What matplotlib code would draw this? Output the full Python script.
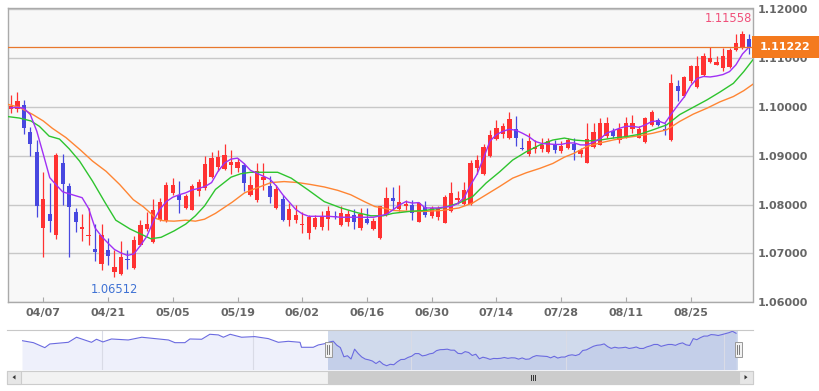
import matplotlib.pyplot as plt
from matplotlib.patches import Rectangle, Polygon
from matplotlib.transforms import blended_transform_factory

W, H = 819, 391
UP = "#ff3232"
DOWN = "#4848e0"

# daily candles 03/31 .. 09/05
opens = [1.0996, 1.0996, 1.1004, 1.0948, 1.0907, 1.0751, 1.0781, 1.0737, 1.0885, 1.0838,
         1.0784, 1.0749, 1.0736, 1.0710, 1.0678, 1.0706, 1.0663, 1.0658, 1.0689, 1.0670,
         1.0717, 1.0749, 1.0724, 1.0769, 1.0767, 1.0824, 1.0820, 1.0792, 1.0789, 1.0827,
         1.0833, 1.0856, 1.0877, 1.0873, 1.0880, 1.0875, 1.0880, 1.0820, 1.0809, 1.0851,
         1.0837, 1.0793, 1.0811, 1.0769, 1.0769, 1.0759, 1.0742, 1.0754, 1.0754, 1.0770,
         1.0777, 1.0759, 1.0764, 1.0779, 1.0752, 1.0770, 1.0750, 1.0731, 1.0779, 1.0813,
         1.0790, 1.0796, 1.0800, 1.0765, 1.0795, 1.0776, 1.0774, 1.0763, 1.0786, 1.0810,
         1.0801, 1.0801, 1.0874, 1.0863, 1.0899, 1.0935, 1.0944, 1.0937, 1.0954, 1.0915,
         1.0903, 1.0914, 1.0913, 1.0908, 1.0924, 1.0910, 1.0915, 1.0924, 1.0903, 1.0886,
         1.0917, 1.0922, 1.0941, 1.0951, 1.0932, 1.0939, 1.0955, 1.0937, 1.0928, 1.0963,
         1.0973, 1.0955, 1.0932, 1.1042, 1.1023, 1.1052, 1.1040, 1.1065, 1.1091, 1.1086,
         1.1079, 1.1081, 1.1117, 1.1120, 1.1139]
highs = [1.1024, 1.1031, 1.1014, 1.0958, 1.0932, 1.0867, 1.0844, 1.0906, 1.0904, 1.0845,
         1.0793, 1.0780, 1.0792, 1.0760, 1.0760, 1.0732, 1.0706, 1.0725, 1.0708, 1.0735,
         1.0769, 1.0784, 1.0812, 1.0814, 1.0846, 1.0854, 1.0849, 1.0821, 1.0842, 1.0852,
         1.0899, 1.0907, 1.0912, 1.0923, 1.0912, 1.0895, 1.0885, 1.0858, 1.0884, 1.0884,
         1.0858, 1.0841, 1.0820, 1.0803, 1.0800, 1.0784, 1.0779, 1.0779, 1.0786, 1.0796,
         1.0786, 1.0796, 1.0789, 1.0791, 1.0793, 1.0793, 1.0772, 1.0798, 1.0835, 1.0835,
         1.0840, 1.0810, 1.0810, 1.0806, 1.0807, 1.0797, 1.0797, 1.0820, 1.0847, 1.0827,
         1.0847, 1.0891, 1.0901, 1.0924, 1.0952, 1.0973, 1.0966, 1.0990, 1.0981, 1.0937,
         1.0946, 1.0932, 1.0937, 1.0937, 1.0932, 1.0929, 1.0937, 1.0936, 1.0915, 1.0967,
         1.0967, 1.0977, 1.0980, 1.0956, 1.0967, 1.0980, 1.0984, 1.0960, 1.0980, 1.0994,
         1.0977, 1.0967, 1.1067, 1.1055, 1.1062, 1.1086, 1.1103, 1.1110, 1.1122, 1.1103,
         1.1120, 1.1120, 1.1149, 1.11558, 1.1149]
lows = [1.0988, 1.0990, 1.0944, 1.0900, 1.0774, 1.0692, 1.0743, 1.0730, 1.0799, 1.0693,
        1.0743, 1.0726, 1.0717, 1.0684, 1.0667, 1.0677, 1.06512, 1.0655, 1.0668, 1.0668,
        1.0715, 1.0745, 1.0722, 1.0767, 1.0764, 1.0819, 1.0783, 1.0790, 1.0788, 1.0818,
        1.0830, 1.0854, 1.0868, 1.0870, 1.0863, 1.0866, 1.0828, 1.0818, 1.0806, 1.0830,
        1.0804, 1.0791, 1.0767, 1.0757, 1.0762, 1.0742, 1.0729, 1.0750, 1.0748, 1.0747,
        1.0770, 1.0757, 1.0757, 1.0750, 1.0748, 1.0761, 1.0747, 1.0730, 1.0776, 1.0789,
        1.0786, 1.0789, 1.0769, 1.0765, 1.0774, 1.0772, 1.0769, 1.0762, 1.0784, 1.0801,
        1.0799, 1.0799, 1.0863, 1.0861, 1.0898, 1.0932, 1.0937, 1.0935, 1.0920, 1.0912,
        1.0899, 1.0906, 1.0908, 1.0906, 1.0906, 1.0906, 1.0914, 1.0891, 1.0898, 1.0885,
        1.0915, 1.0921, 1.0936, 1.0937, 1.0926, 1.0936, 1.0946, 1.0936, 1.0926, 1.0960,
        1.0960, 1.0943, 1.0930, 1.1012, 1.1021, 1.1048, 1.1038, 1.1064, 1.1089, 1.1085,
        1.1074, 1.1079, 1.1115, 1.1118, 1.1108]
closes = [1.1002, 1.1012, 1.0957, 1.0924, 1.0797, 1.0811, 1.0766, 1.0902, 1.0842, 1.0794,
          1.0765, 1.0754, 1.0738, 1.0703, 1.0737, 1.0694, 1.0673, 1.0693, 1.0687, 1.0728,
          1.0759, 1.0761, 1.0788, 1.0805, 1.0841, 1.0841, 1.0809, 1.0818, 1.0837, 1.0846,
          1.0882, 1.0895, 1.0897, 1.0902, 1.0888, 1.0888, 1.0844, 1.0839, 1.0868, 1.0856,
          1.0815, 1.0832, 1.0769, 1.0791, 1.0779, 1.0761, 1.0774, 1.0772, 1.0776, 1.0787,
          1.0775, 1.0783, 1.0781, 1.0764, 1.0781, 1.0762, 1.0766, 1.0796, 1.0813, 1.0808,
          1.0805, 1.0801, 1.0782, 1.0804, 1.0779, 1.0793, 1.0793, 1.0816, 1.0824, 1.0814,
          1.0830, 1.0884, 1.0892, 1.0917, 1.0942, 1.0956, 1.0961, 1.0975, 1.0937, 1.0913,
          1.0929, 1.0918, 1.0922, 1.0929, 1.0912, 1.0920, 1.0932, 1.0912, 1.0912, 1.0934,
          1.0948, 1.0967, 1.0967, 1.0941, 1.0955, 1.0967, 1.0967, 1.0955, 1.0977, 1.0989,
          1.0962, 1.0953, 1.1048, 1.1033, 1.1061, 1.1083, 1.1083, 1.1104, 1.1100, 1.1091,
          1.1103, 1.1117, 1.1130, 1.1149, 1.11222]

# moving averages
ma_fast = [1.0998, 1.0999, 1.0997, 1.0984, 1.0950, 1.0903, 1.0855, 1.0840, 1.0826, 1.0822,
           1.0818, 1.0814, 1.0792, 1.0752, 1.0735, 1.0721, 1.0708, 1.0701, 1.0696, 1.0699,
           1.0716, 1.0735, 1.0766, 1.0790, 1.0806, 1.0815, 1.0820, 1.0824, 1.0830, 1.0833,
           1.0837, 1.0845, 1.0868, 1.0885, 1.0893, 1.0895, 1.0884, 1.0870, 1.0864, 1.0858,
           1.0852, 1.0838, 1.0820, 1.0805, 1.0790, 1.0781, 1.0776, 1.0776, 1.0776, 1.0776,
           1.0775, 1.0774, 1.0774, 1.0774, 1.0774, 1.0774, 1.0774, 1.0777, 1.0780, 1.0789,
           1.0799, 1.0806, 1.0803, 1.0804, 1.0793, 1.0793, 1.0793, 1.0795, 1.0796, 1.0802,
           1.0814, 1.0840, 1.0862, 1.0895, 1.0930, 1.0943, 1.0950, 1.0954, 1.0952, 1.0946,
           1.0939, 1.0929, 1.0925, 1.0924, 1.0923, 1.0923, 1.0926, 1.0926, 1.0922, 1.0922,
           1.0928, 1.0934, 1.0946, 1.0951, 1.0956, 1.0960, 1.0960, 1.0958, 1.0963, 1.0970,
           1.0971, 1.0966, 1.0985, 1.1003, 1.1020, 1.1043, 1.1058, 1.1062, 1.1061, 1.1063,
           1.1066, 1.1072, 1.1086, 1.1108, 1.1122]
ma_mid_x = [-0.5, 1.3, 3.1, 4.4, 5.9, 7.5, 9, 10.6, 12.6, 14.5, 16.2, 18.4, 20, 21.6, 23.2,
            25.2, 27, 28.5, 29.9, 31.6, 34, 35.5, 37, 38.6, 41.2, 43.3, 45.9, 48.4, 51, 53.6,
            55.6, 57.5, 59, 61.6, 64, 66.6, 69.2, 71.3, 73.4, 75.5, 77.5, 79.6, 81.7, 83.7,
            85.5, 87, 89, 91, 93, 95, 97.2, 99.2, 101.3, 103.3, 105.4, 107.5, 109.5, 111.6,
            113.2, 114.6]
ma_mid = [1.0980, 1.0977, 1.0971, 1.0960, 1.0940, 1.0934, 1.0914, 1.0889, 1.0848, 1.0805,
          1.0768, 1.0750, 1.0740, 1.0730, 1.0733, 1.0746, 1.0760, 1.0777, 1.0797, 1.0831,
          1.0856, 1.0863, 1.0866, 1.0866, 1.0866, 1.0854, 1.0830, 1.0806, 1.0793, 1.0783,
          1.0777, 1.0777, 1.0782, 1.0786, 1.0788, 1.0793, 1.0803, 1.0816, 1.0844, 1.0867,
          1.0891, 1.0908, 1.0922, 1.0932, 1.0936, 1.0932, 1.0930, 1.0932, 1.0936, 1.0939,
          1.0944, 1.0953, 1.0963, 1.0984, 1.0999, 1.1014, 1.1030, 1.1048, 1.1072, 1.1096]
ma_slow_x = [-0.5, 1.3, 3.4, 5, 6.4, 8.5, 10.7, 12.6, 14.7, 16.8, 18.9, 20.5, 22.5, 23.5,
             25.2, 27, 28.5, 29.9, 31.6, 34.2, 36.1, 37.8, 40.2, 42.2, 44.3, 46.3, 48.4, 50.5,
             52.5, 54.6, 56.2, 57.5, 59, 61.6, 64, 66.6, 69.2, 71.3, 73.4, 75.5, 77.5, 79.6,
             81.7, 83.7, 85.5, 87, 89, 91, 93, 95, 97.2, 99.2, 101.3, 103.3, 105.4, 107.5,
             109.5, 111.6, 113.2, 114.6]
ma_slow = [1.1005, 1.0999, 1.0984, 1.0971, 1.0956, 1.0937, 1.0912, 1.0889, 1.0868, 1.0841,
           1.0810, 1.0795, 1.0771, 1.0767, 1.0766, 1.0768, 1.0766, 1.0770, 1.0782, 1.0805,
           1.0824, 1.0833, 1.0845, 1.0847, 1.0845, 1.0841, 1.0836, 1.0829, 1.0820, 1.0806,
           1.0796, 1.0793, 1.0788, 1.0786, 1.0786, 1.0788, 1.0793, 1.0803, 1.0820, 1.0837,
           1.0854, 1.0865, 1.0874, 1.0884, 1.0897, 1.0905, 1.0919, 1.0926, 1.0932, 1.0937,
           1.0941, 1.0946, 1.0953, 1.0970, 1.0985, 1.0997, 1.1010, 1.1021, 1.1033, 1.1046]

tick_idx = [5, 15, 25, 35, 45, 55, 65, 75, 85, 95, 105]
tick_lbl = ["04/07", "04/21", "05/05", "05/19", "06/02", "06/16", "06/30", "07/14",
            "07/28", "08/11", "08/25"]
price_ticks = [1.06, 1.07, 1.08, 1.09, 1.10, 1.11, 1.12]

# navigator: earlier closes (before 03/31) + grid positions
nav_hist_x = [-86.3, -83.1, -79.9, -78.5, -73.3, -71.0, -66.8, -65.4, -63.6, -61.2, -56.5,
              -52.7, -48.1, -45.2, -43.4, -40.6, -39.2, -35.9, -33.6, -31.2, -29.8, -27.9,
              -24.7, -21.0, -17.2, -14.4, -11.6, -8.3, -7.9, -4.6, -3.2, -0.8]
nav_hist = [1.1020, 1.0992, 1.0923, 1.0974, 1.0997, 1.1067, 1.0997, 1.1039, 1.1002, 1.1043,
            1.1029, 1.1067, 1.1043, 1.1029, 1.0992, 1.0992, 1.1043, 1.1039, 1.1108, 1.1099,
            1.1067, 1.1108, 1.1067, 1.1076, 1.1048, 1.0997, 1.1011, 1.0997, 1.0928, 1.0928,
            1.0960, 1.0984]
nav_grid = [-63.8, -21.4, 22.8, 66.3, 110.6]


def rect(x0, y0, x1, y1):
    return [x0 / W, 1 - y1 / H, (x1 - x0) / W, (y1 - y0) / H]


fig = plt.figure(figsize=(W / 100, H / 100), dpi=100)
fig.patch.set_facecolor("white")

ax = fig.add_axes(rect(8, 8.3, 752.5, 302.3))
ax.set_facecolor("#f8f8f8")
n = len(closes)
for i in range(n):
    o, h, l, c = opens[i], highs[i], lows[i], closes[i]
    col = UP if c >= o else DOWN
    ax.vlines(i, l, h, color=col, lw=0.9, zorder=3)
    ax.bar(i, max(abs(c - o), 0.00012), bottom=min(o, c), width=0.66,
           color=col, lw=0, zorder=4)

ax.plot(ma_slow_x, ma_slow, color="#ff8533", lw=1.0, zorder=5)
ax.plot(ma_mid_x, ma_mid, color="#2ec42e", lw=1.0, zorder=5)
ax.plot(range(n), ma_fast, color="#a030f5", lw=1.0, zorder=6)

last = closes[-1]
ax.axhline(last, color="#e8782c", lw=0.9, zorder=7)

ax.set_xlim(-0.45, 114.55)
ax.set_ylim(1.06, 1.12015)
ax.set_yticks(price_ticks)
ax.set_yticklabels(["%.5f" % p for p in price_ticks])
ax.yaxis.tick_right()
ax.tick_params(axis="y", length=0, pad=4, labelsize=8, labelcolor="#666666")
ax.set_xticks(tick_idx)
ax.set_xticklabels(tick_lbl)
ax.tick_params(axis="x", direction="in", length=3.6, color="#aaaaaa", pad=4,
               labelsize=8, labelcolor="#666666")
for t in ax.get_xticklabels() + ax.get_yticklabels():
    t.set_fontweight("bold")
ax.grid(axis="y", color="#c8c8c8", lw=1.0)
ax.set_axisbelow(True)
for s in ax.spines.values():
    s.set_color("#aaaaaa")
    s.set_linewidth(1.0)

# high / low markers
i_hi = highs.index(max(highs))
i_lo = lows.index(min(lows))
ax.text(1.0, 0.965, "%.5f" % highs[i_hi], transform=ax.transAxes, ha="right",
        va="center", fontsize=8.3, color="#f0507a")
ax.annotate("%.5f" % lows[i_lo], xy=(i_lo, lows[i_lo]), xytext=(0, -12),
            textcoords="offset pixels", ha="center", va="center",
            fontsize=8.3, color="#3f72d4")

# current price box
bt = blended_transform_factory(fig.transFigure, ax.transData)
half = 11 / 4880
ax.add_patch(Rectangle((752 / W, last - half), 67 / W, 2 * half, transform=bt,
                       facecolor="#f47a1e", edgecolor="none", clip_on=False, zorder=10))
ax.text(785.5 / W, last, "%.5f" % last, transform=bt, ha="center", va="center",
        fontsize=8, fontweight="bold", color="white", zorder=11, clip_on=False)

# navigator
nav = fig.add_axes(rect(22, 330.3, 738, 370))
nav_x = nav_hist_x + list(range(n))
nav_y = nav_hist + closes
nav.set_xlim(-86.3, 114.55)
nav.set_ylim(1.0614, 1.1163)
nav.fill_between(nav_x, nav_y, 1.0614, color="#eef0fb", lw=0)
for g in nav_grid:
    nav.axvline(g, color="#d9dbe6", lw=0.8)
nav.plot(nav_x, nav_y, color="#6a6ae0", lw=0.8)
nav.axvspan(-0.45, 114.55, color=(0.4, 0.52, 0.76, 0.3), lw=0)
nav.axis("off")

sel0 = nav.transData.transform((-0.45, 1.09))[0]
sel1 = nav.transData.transform((114.55, 1.09))[0]

ov = fig.add_axes([0, 0, 1, 1], zorder=10)
ov.set_xlim(0, W)
ov.set_ylim(H, 0)
ov.axis("off")
ov.plot([7, 753], [330.3, 330.3], color="#c8c8c8", lw=0.8)
ov.add_patch(Rectangle((7, 370.5), 746, 13.5, fc="#f2f2f2", ec="#cccccc", lw=0.8))
ov.add_patch(Rectangle((sel0, 370.5), sel1 - sel0, 13.5, fc="#cccccc", ec="#cccccc", lw=0.8))
ov.add_patch(Rectangle((7, 370.5), 14, 13.5, fc="#e6e6e6", ec="#cccccc", lw=0.8))
ov.add_patch(Rectangle((739, 370.5), 14, 13.5, fc="#e6e6e6", ec="#cccccc", lw=0.8))
ov.add_patch(Polygon([(12.5, 377.2), (15.5, 375), (15.5, 379.5)], fc="#333333", ec="none"))
ov.add_patch(Polygon([(747.5, 377.2), (744.5, 375), (744.5, 379.5)], fc="#333333", ec="none"))
mid = (sel0 + sel1) / 2
for dx in (-2, 0, 2):
    ov.plot([mid + dx, mid + dx], [374.5, 380], color="#333333", lw=0.7)
for hx in (sel0, sel1):
    ov.add_patch(Rectangle((hx - 3.5, 342), 7, 15, fc="#f2f2f2", ec="#999999", lw=0.7))
    for dx in (-1, 1):
        ov.plot([hx + dx, hx + dx], [345, 354], color="#666666", lw=0.6)

fig.savefig("out.png", dpi=100)
